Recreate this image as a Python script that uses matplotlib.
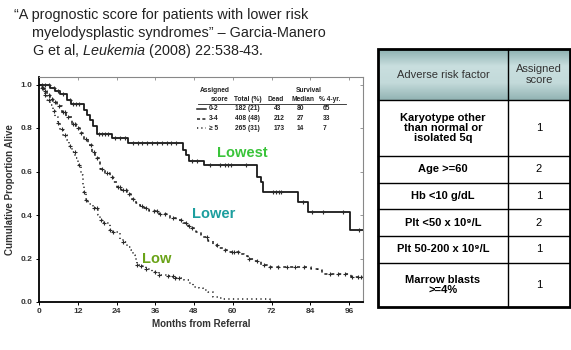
import numpy as np
import matplotlib
matplotlib.use('Agg')
import matplotlib.pyplot as plt
from matplotlib.colors import LinearSegmentedColormap
from matplotlib.patches import Rectangle

plt.rcParams['font.family'] = ['Liberation Sans', 'DejaVu Sans']
plt.rcParams['mathtext.fontset'] = 'custom'
plt.rcParams['mathtext.rm'] = 'Liberation Sans'
plt.rcParams['mathtext.it'] = 'Liberation Sans:italic'

# ---- Kaplan-Meier curves (months, proportion alive)
lowest_t = [0, 3.4, 5, 6.5, 8.7, 10, 13.8, 15, 15.8, 16.8, 18, 22.6, 27.6, 44.5, 45.5,
            46.5, 51, 67.5, 68.6, 69.3, 80.3, 83.3, 96.2]
lowest_s = [1.0, 0.985, 0.97, 0.955, 0.93, 0.91, 0.885, 0.86, 0.835, 0.81, 0.772, 0.753,
            0.733, 0.70, 0.675, 0.648, 0.632, 0.575, 0.552, 0.505, 0.462, 0.412, 0.331]
lowest_cens = [1, 2, 3, 4.5, 6, 7.5, 9.5, 10.5, 11.5, 12.5, 18.5, 19.5, 20.5, 21.5, 23.5,
               25, 26.5, 29, 30.5, 32, 33.5, 35, 36.5, 38, 39.5, 41, 42.5, 47.5, 49, 53,
               56, 57.5, 58.5, 59.5, 64, 72.5, 73.5, 74.2, 75, 81.8, 84.5, 88, 94, 99]

lower_t = [0, 0.8, 1.6, 2.4, 3.4, 4.4, 5.6, 7, 8.5, 10.1, 11.4, 12.7, 14, 15.3, 16.3, 17.3,
           18.9, 20.5, 22, 23, 24, 25.5, 27.2, 28.5, 30, 31.3, 32.5, 34.2, 37.3, 40.4, 42.5,
           44.5, 46, 47.2, 48.7, 50, 50.9, 52.3, 53.8, 55.2, 57, 58.5, 62, 63.5, 64.7, 66.5,
           68.8, 71.4, 84.3, 86.4, 87.6, 96.7]
lower_s = [1.0, 0.985, 0.97, 0.95, 0.935, 0.92, 0.9, 0.875, 0.85, 0.82, 0.8, 0.775, 0.75,
           0.72, 0.69, 0.66, 0.613, 0.595, 0.575, 0.55, 0.53, 0.515, 0.498, 0.475, 0.455,
           0.443, 0.43, 0.418, 0.406, 0.385, 0.375, 0.362, 0.35, 0.338, 0.322, 0.31, 0.299,
           0.28, 0.262, 0.247, 0.238, 0.232, 0.222, 0.21, 0.2, 0.187, 0.172, 0.161, 0.152,
           0.147, 0.127, 0.113]
lower_cens = [1.2, 2, 3, 4, 5, 6.2, 7.5, 8, 9, 10.5, 11, 12, 13, 14.5, 16, 17, 18, 19.5,
              21, 22.5, 24.5, 25, 26, 27, 28, 29, 32, 33, 35.5, 36.4, 37.5, 39, 41.5, 44,
              45.5, 46.5, 47.5, 52, 55, 57.5, 59.6, 60.5, 61.7, 65, 67.5, 69.5, 71.4, 74,
              76.9, 79.4, 82.1, 90, 92.6, 94.7, 96.9, 98.6, 99.8]

low_t = [0, 0.8, 1.9, 2.6, 3.4, 4.2, 5, 5.8, 6.5, 7.5, 8.6, 9.4, 10.1, 11.2, 12.2, 13,
         13.7, 14, 14.6, 15.3, 16.6, 18.2, 18.9, 20.2, 22, 22.8, 25, 25.9, 27.2, 28.5, 29.2,
         29.7, 30.2, 31.5, 33.2, 35, 37.3, 39.5, 41.5, 45, 46.5, 47.8, 49.6, 50.9, 52.3,
         53.9, 55.5, 57, 71.4]
low_s = [1.0, 0.985, 0.95, 0.93, 0.904, 0.878, 0.85, 0.823, 0.797, 0.77, 0.743, 0.715,
         0.69, 0.66, 0.628, 0.585, 0.537, 0.508, 0.469, 0.452, 0.43, 0.4, 0.376, 0.362,
         0.33, 0.322, 0.29, 0.278, 0.253, 0.239, 0.215, 0.2, 0.172, 0.165, 0.15, 0.14,
         0.124, 0.118, 0.11, 0.1, 0.086, 0.07, 0.063, 0.054, 0.048, 0.025, 0.018, 0.012, 0.0]
low_cens = [1, 2, 3, 4.5, 6, 7, 8, 9.5, 11, 12.5, 14, 14.6, 16.9, 18, 19.3, 20.2, 22, 23,
            25.9, 30.2, 31.5, 33.2, 36, 37.3, 40, 41.4, 42.2, 43.2, 71.4]

# legend table inside the plot
leg_groups = ['0-2', '3-4', '≥ 5']
leg_total = ['182 (21)', '408 (48)', '265 (31)']
leg_dead = ['43', '212', '173']
leg_median = ['80', '27', '14']
leg_4yr = ['65', '33', '7']

# risk factor table
factors = ['Karyotype other\nthan normal or\nisolated 5q', 'Age >=60', 'Hb <10 g/dL',
           'Plt <50 x 10⁹/L', 'Plt 50-200 x 10⁹/L', 'Marrow blasts\n>=4%']
scores = ['1', '2', '1', '2', '1', '1']

fig = plt.figure(figsize=(5.71, 3.5), dpi=100)

# full-figure canvas in pixel units for the slide text and table
cv = fig.add_axes([0, 0, 1, 1])
cv.set_xlim(0, 571)
cv.set_ylim(350, 0)
cv.axis('off')

tc = '#222222'
tfs = 10.4
cv.text(14, 15, '“A prognostic score for patients with lower risk', fontsize=tfs, color=tc, va='center')
cv.text(32, 33.5, 'myelodysplastic syndromes” – Garcia-Manero', fontsize=tfs, color=tc, va='center')
cv.text(32, 51, 'G et al, $\\mathit{Leukemia}$ (2008) 22:538-43.', fontsize=tfs, color=tc, va='center')

# table
x0, x1, x2 = 378, 508, 570
rows = [49, 100, 156, 183, 209, 236, 263, 307]
cmap = LinearSegmentedColormap.from_list('hdr', ['#8db0b0', '#c9dfdf', '#c3dada', '#93b4b4'])
cv.imshow(np.linspace(0, 1, 60).reshape(-1, 1), extent=(x0, x2, rows[1], rows[0]),
          cmap=cmap, aspect='auto', origin='upper', zorder=1)
for y in rows[1:-1]:
    cv.plot([x0, x2], [y, y], color='black', lw=1.0, zorder=2)
cv.plot([x1, x1], [rows[0], rows[-1]], color='black', lw=1.0, zorder=2)
cv.add_patch(Rectangle((x0, rows[0]), x2 - x0, rows[-1] - rows[0], fill=False,
                       ec='black', lw=2, zorder=3))
cv.text((x0 + x1) / 2, (rows[0] + rows[1]) / 2, 'Adverse risk factor', ha='center',
        va='center', fontsize=8, color='#333333', zorder=4)
cv.text((x1 + x2) / 2, (rows[0] + rows[1]) / 2, 'Assigned\nscore', ha='center',
        va='center', fontsize=8, color='#333333', linespacing=1.1, zorder=4)
for i in range(len(factors)):
    yc = (rows[i + 1] + rows[i + 2]) / 2
    cv.text((x0 + x1) / 2, yc, factors[i], ha='center', va='center', fontsize=8,
            fontweight='bold', color='black', linespacing=1.05, zorder=4)
    cv.text((x1 + x2) / 2, yc, scores[i], ha='center', va='center', fontsize=8,
            color='black', zorder=4)

# legend block drawn in pixel coordinates
lk = dict(fontsize=4.8, fontweight='bold', color=tc, va='center', zorder=5)
cv.text(200, 90, 'Assigned', **lk)
cv.text(296, 90, 'Survival', **lk)
for xx, s in zip([211, 234, 268, 292, 319], ['score', 'Total (%)', 'Dead', 'Median', '% 4-yr.']):
    cv.text(xx, 99.5, s, **lk)
cv.plot([198, 346], [103.5, 103.5], color=tc, lw=0.6, zorder=5)
styles = ['-', (0, (2, 1.5)), (0, (0.8, 2))]
for i in range(3):
    yy = 109 + 9.5 * i
    cv.plot([197, 206], [yy, yy], color=tc, lw=1.1, ls=styles[i], zorder=5)
    cv.text(209, yy, leg_groups[i], **lk)
    cv.text(235, yy, leg_total[i], **lk)
    cv.text(274, yy, leg_dead[i], **lk)
    cv.text(297, yy, leg_median[i], **lk)
    cv.text(323, yy, leg_4yr[i], **lk)

# survival plot
ax = fig.add_axes([39 / 571, 1 - 302 / 350, 324 / 571, 225 / 350])
ax.patch.set_alpha(0)
xmax = 100.3
ax.set_xlim(0, xmax)
ax.set_ylim(0, 225 / 217.5)

def km(t, s, cens, ls, lw, end):
    t = np.array(t, float)
    s = np.array(s, float)
    tt = np.append(t, end)
    ss = np.append(s, s[-1])
    ax.plot(tt, ss, drawstyle='steps-post', color='#1a1a1a', ls=ls, lw=lw)
    c = np.array(cens, float)
    cy = s[np.searchsorted(t, c, side='right') - 1]
    ax.plot(c, cy, ls='none', marker='+', ms=3.5, mew=0.8, color='#2a2a2a')

km(lowest_t, lowest_s, lowest_cens, '-', 1.3, xmax)
km(lower_t, lower_s, lower_cens, (0, (2, 2.5)), 1.1, xmax)
km(low_t, low_s, low_cens, (0, (0.8, 2.2)), 1.1, 72)

ax.text(62.9, 0.684, 'Lowest', color='#3ac43a', fontsize=10.5, fontweight='bold', ha='center', va='center')
ax.text(54.2, 0.403, 'Lower', color='#1c9e9e', fontsize=10.5, fontweight='bold', ha='center', va='center')
ax.text(36.5, 0.196, 'Low', color='#6aa318', fontsize=10.5, fontweight='bold', ha='center', va='center')

ax.set_xticks(range(0, 97, 12))
ax.set_yticks([0, 0.2, 0.4, 0.6, 0.8, 1.0])
ax.set_yticklabels(['0.0', '0.2', '0.4', '0.6', '0.8', '1.0'])
ax.tick_params(direction='out', length=2.5, width=0.7, labelsize=6, labelcolor='#333333', pad=2)
for lab in ax.get_xticklabels() + ax.get_yticklabels():
    lab.set_fontweight('bold')
for side in ['left', 'bottom']:
    ax.spines[side].set_linewidth(1.3)
for side in ['top', 'right']:
    ax.spines[side].set_linewidth(0.8)
    ax.spines[side].set_color('#888888')
sx = ax.secondary_xaxis('top')
sx.set_xticks(range(0, 97, 12))
sx.tick_params(direction='in', length=2, width=0.6, color='#888888', labeltop=False)
sy = ax.secondary_yaxis('right')
sy.set_yticks([0, 0.2, 0.4, 0.6, 0.8, 1.0])
sy.tick_params(direction='in', length=2, width=0.6, color='#888888', labelright=False)
for sa in (sx, sy):
    for sp in sa.spines.values():
        sp.set_visible(False)

ax.set_xlabel('Months from Referral', fontsize=7, fontweight='bold', color='#333333', labelpad=3)
ax.set_ylabel('Cumulative Proportion Alive', fontsize=7, fontweight='bold', color='#333333', labelpad=4)

fig.savefig('out.png', dpi=100)
